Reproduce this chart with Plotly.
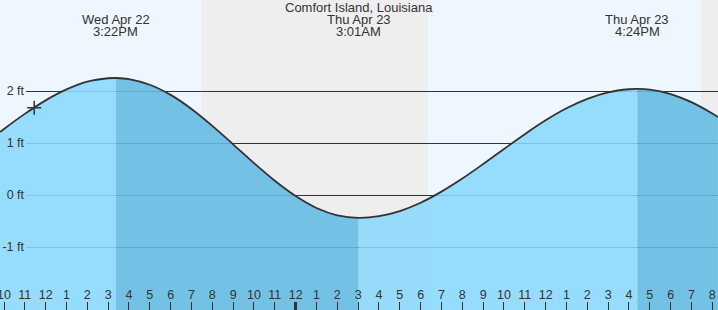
import plotly.graph_objects as go

# ---- data (hours counted from Wed Apr 22 00:00) ----
times = [9.81, 10, 11, 12, 13, 14, 15, 15.37, 16, 17, 18, 19, 20, 21, 22, 23, 24, 25, 26,
         27.02, 28, 29, 30, 31, 32, 33, 34, 35, 36, 37, 38, 39, 40, 40.4, 41, 42, 43, 44, 44.27]
heights = [1.21, 1.27, 1.56, 1.82, 2.03, 2.18, 2.245, 2.25, 2.23, 2.12, 1.925, 1.655, 1.33, 0.975,
           0.614, 0.275, -0.02, -0.249, -0.39, -0.44, -0.407, -0.308, -0.148, 0.065, 0.316, 0.595,
           0.885, 1.17, 1.436, 1.667, 1.849, 1.974, 2.034, 2.04, 2.026, 1.942, 1.786, 1.568, 1.5]

extreme_times = [15.37, 27.02, 40.4]
extreme_dates = ["Wed Apr 22", "Thu Apr 23", "Thu Apr 23"]
extreme_clock = ["3:22PM", "3:01AM", "4:24PM"]
title_text = "Comfort Island, Louisiana"

night_start = [19.47, 43.46]
night_end = [30.35, 44.5]

now_time = [11.45]
now_height = [1.68]

hour_ticks = list(range(10, 45))
hour_labels = ["10", "11", "12", "1", "2", "3", "4", "5", "6", "7", "8", "9", "10", "11", "12",
               "1", "2", "3", "4", "5", "6", "7", "8", "9", "10", "11", "12",
               "1", "2", "3", "4", "5", "6", "7", "8"]
midnight_tick = [24]

ft_vals = [-1, 0, 1, 2]
ft_labels = ["-1 ft", "0 ft", "1 ft", "2 ft"]

# ---- styles ----
X_RANGE = [9.808, 44.274]
Y_RANGE = [-2.2115, 3.75]
DAY = "rgb(238,246,255)"
NIGHT = "rgb(238,238,238)"
LIGHT = "rgba(138,216,252,0.88)"
DARK = "rgba(98,187,227,0.88)"
INK = "#333333"
FONT = "Liberation Sans, Arial, sans-serif"
GRID_LEFT = 26 / 718

fig = go.Figure()

# dummy trace to create grid subplot (x, y)
fig.add_trace(go.Scatter(x=[None], y=[None], xaxis="x", yaxis="y", showlegend=False, hoverinfo="skip"))

# split into rising / falling segments at extremes
idx = [0] + [times.index(t) for t in extreme_times] + [len(times) - 1]
colors = [LIGHT, DARK, LIGHT, DARK]
for k in range(len(idx) - 1):
    a, b = idx[k], idx[k + 1]
    sx = times[a:b + 1]
    sy = heights[a:b + 1]
    fig.add_trace(go.Scatter(x=sx, y=[Y_RANGE[0] - 1] * len(sx), mode="lines",
                             line=dict(width=0), xaxis="x2", yaxis="y2",
                             showlegend=False, hoverinfo="skip"))
    fig.add_trace(go.Scatter(x=sx, y=sy, mode="lines", fill="tonexty", fillcolor=colors[k],
                             line=dict(width=0, shape="spline"), xaxis="x2", yaxis="y2",
                             showlegend=False, hoverinfo="skip"))

fig.add_trace(go.Scatter(x=times, y=heights, mode="lines",
                         line=dict(color=INK, width=1.8, shape="spline"),
                         xaxis="x2", yaxis="y2", showlegend=False, hoverinfo="skip"))

fig.add_trace(go.Scatter(x=now_time, y=now_height, mode="markers",
                         marker=dict(symbol="cross-thin", size=10, line=dict(color=INK, width=1.5)),
                         xaxis="x2", yaxis="y2", showlegend=False, hoverinfo="skip"))

fig.add_trace(go.Scatter(x=[None], y=[None], xaxis="x3", yaxis="y2", showlegend=False, hoverinfo="skip"))
fig.add_trace(go.Scatter(x=[None], y=[None], xaxis="x2", yaxis="y3", showlegend=False, hoverinfo="skip"))

for s, e in zip(night_start, night_end):
    fig.add_shape(type="rect", xref="x2", yref="paper", x0=s, x1=e, y0=0, y1=1,
                  fillcolor=NIGHT, line=dict(width=0), layer="below")

# labels
H = 310.0
fig.add_annotation(text=title_text, xref="paper", yref="paper", x=0.5, y=1 - 7.5 / H,
                   showarrow=False, xanchor="center", yanchor="middle",
                   font=dict(family=FONT, size=13, color=INK))
for t, d, c in zip(extreme_times, extreme_dates, extreme_clock):
    fig.add_annotation(text=d, xref="x2", yref="paper", x=t, y=1 - 19.7 / H,
                       showarrow=False, xanchor="center", yanchor="middle",
                       font=dict(family=FONT, size=13, color=INK))
    fig.add_annotation(text=c, xref="x2", yref="paper", x=t, y=1 - 31.5 / H,
                       showarrow=False, xanchor="center", yanchor="middle",
                       font=dict(family=FONT, size=13, color=INK))

fig.update_layout(
    width=718, height=310,
    margin=dict(l=0, r=0, t=0, b=0, pad=0, autoexpand=False),
    paper_bgcolor=DAY, plot_bgcolor="rgba(0,0,0,0)",
    showlegend=False,
    font=dict(family=FONT, size=12, color=INK),
    xaxis=dict(domain=[GRID_LEFT, 1], range=X_RANGE, visible=False, fixedrange=True),
    yaxis=dict(domain=[0, 1], anchor="x", range=Y_RANGE, showgrid=True, gridcolor=INK,
               gridwidth=1, zeroline=False, showline=False, ticks="",
               tickvals=ft_vals, showticklabels=False),
    xaxis2=dict(domain=[0, 1], anchor="y2", range=X_RANGE, showgrid=False, zeroline=False,
                showline=False, ticks="inside", ticklen=8, tickwidth=1, tickcolor=INK,
                tickvals=hour_ticks, ticktext=hour_labels, ticklabelposition="inside",
                ticklabeloverflow="allow", automargin=False,
                tickfont=dict(family=FONT, size=12.5, color=INK)),
    yaxis2=dict(domain=[0, 1], anchor="x2", range=Y_RANGE, visible=False, automargin=False),
    xaxis3=dict(overlaying="x2", anchor="y2", range=X_RANGE, showgrid=False, zeroline=False,
                showline=False, ticks="inside", ticklen=8, tickwidth=3, tickcolor=INK,
                tickvals=midnight_tick, showticklabels=False, automargin=False),
    yaxis3=dict(overlaying="y2", anchor="free", position=GRID_LEFT, side="left",
                range=Y_RANGE, showgrid=False, zeroline=False, showline=False, ticks="",
                tickvals=ft_vals, ticktext=ft_labels, automargin=False, ticklabelstandoff=2,
                tickfont=dict(family=FONT, size=12.5, color=INK)),
)

fig.write_html("out.html")
